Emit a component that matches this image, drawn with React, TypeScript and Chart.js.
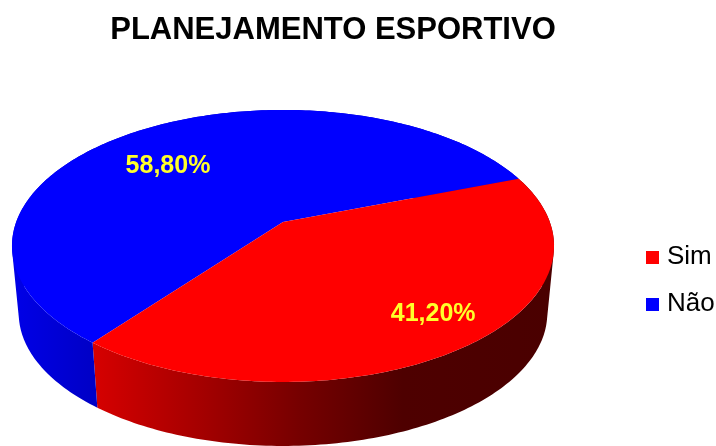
import React, { useEffect, useRef } from "react";
import { Chart, registerables } from "chart.js";

Chart.register(...registerables);

const chartTitle = "PLANEJAMENTO ESPORTIVO";
const categories = ["Sim", "Não"];
const shares = [41.2, 58.8];
const faceColors = ["#ff0000", "#0000ff"];

// Side wall shading, left to right, as [fraction of the pie's width, colour].
const redWallStops: [number, string][] = [
  [0.15, "#d60000"],
  [0.35, "#a40000"],
  [0.53, "#760000"],
  [0.72, "#4e0000"],
  [1, "#4a0000"],
];
const blueWallStops: [number, string][] = [
  [0, "#0000e8"],
  [0.15, "#0000c6"],
];
const wallStops = [redWallStops, blueWallStops];

// Where each percentage sits: angle in degrees and fraction of the radius.
const labelAngles = [50.5, 225.6];
const labelRadii = [0.79, 0.668];

const CX = 283;
const CY = 222;
const RX = 266.8;
const RY = 131.8;
const TILT = 0.176; // foreshortening: the near rim is drawn larger than the far rim
const WALL_DROP = 68;
const WALL_SCALE = 0.975;
const PIE_LEFT = 12;
const PIE_WIDTH = 543;
const LABEL_NUDGE = 2;

type Pt = [number, number];

function project(u: number, v: number, lower = false): Pt {
  const w = 1 - TILT * v;
  const s = lower ? WALL_SCALE : 1;
  return [CX + (s * RX * u) / w, CY + (lower ? WALL_DROP : 0) + (s * RY * v) / w];
}

function rim(start: number, end: number, lower = false): Pt[] {
  const steps = Math.max(2, Math.ceil(((end - start) * 180) / Math.PI));
  const pts: Pt[] = [];
  for (let i = 0; i <= steps; i++) {
    const t = start + ((end - start) * i) / steps;
    pts.push(project(Math.cos(t), Math.sin(t), lower));
  }
  return pts;
}

function tracePolygon(ctx: CanvasRenderingContext2D, pts: Pt[]) {
  pts.forEach(([x, y], i) => (i ? ctx.lineTo(x, y) : ctx.moveTo(x, y)));
  ctx.closePath();
}

function signedArea(pts: Pt[]): number {
  return pts.reduce((sum, [x, y], i) => {
    const [nx, ny] = pts[(i + 1) % pts.length];
    return sum + x * ny - nx * y;
  }, 0);
}

const pie3d = {
  id: "pie3d",
  // Slice angles come from the doughnut controller; the disc is painted in perspective.
  beforeDatasetDraw(chart: any) {
    const ctx: CanvasRenderingContext2D = chart.ctx;
    const arcs = chart.getDatasetMeta(0).data;
    ctx.save();
    arcs.forEach((arc: any, i: number) => {
      const g = ctx.createLinearGradient(PIE_LEFT, 0, PIE_LEFT + PIE_WIDTH, 0);
      wallStops[i].forEach(([p, c]) => g.addColorStop(p, c));
      const top = rim(arc.startAngle, arc.endAngle);
      const bottom = rim(arc.startAngle, arc.endAngle, true);
      // All quads share one path and one winding, so the wall fills without seams
      // and its outline follows the tangent between the two rims.
      ctx.beginPath();
      for (let k = 0; k + 1 < top.length; k++) {
        const quad: Pt[] = [top[k], top[k + 1], bottom[k + 1], bottom[k]];
        tracePolygon(ctx, signedArea(quad) < 0 ? quad.reverse() : quad);
      }
      ctx.fillStyle = g;
      ctx.fill();
    });
    [1, 0].forEach((i) => {
      const arc = arcs[i];
      ctx.beginPath();
      tracePolygon(ctx, [[CX, CY], ...rim(arc.startAngle, arc.endAngle)]);
      ctx.fillStyle = faceColors[i];
      ctx.fill();
    });
    ctx.font = "bold 25px 'Liberation Sans', Arial, sans-serif";
    ctx.textAlign = "center";
    ctx.textBaseline = "middle";
    ctx.fillStyle = "#ffff2a";
    shares.forEach((value, i) => {
      const t = (labelAngles[i] * Math.PI) / 180;
      const [x, y] = project(labelRadii[i] * Math.cos(t), labelRadii[i] * Math.sin(t));
      ctx.fillText(value.toFixed(2).replace(".", ",") + "%", x, y + LABEL_NUDGE);
    });
    ctx.restore();
    return false;
  },
  afterLayout(chart: any) {
    const legend = chart.legend;
    legend.left = 630;
    legend.right = 716;
    legend.top = 223;
    legend.bottom = 446;
    chart.titleBlock.left = 0;
    chart.titleBlock.right = 666;
  },
};

function swatch(color: string): HTMLCanvasElement {
  const c = document.createElement("canvas");
  c.width = 13;
  c.height = 13;
  const g = c.getContext("2d")!;
  g.fillStyle = color;
  g.fillRect(0, 0, 13, 13);
  return c;
}

export default function App() {
  const ref = useRef<HTMLCanvasElement>(null);
  useEffect(() => {
    const chart = new Chart(ref.current!, {
      type: "pie",
      data: {
        labels: categories,
        datasets: [{ data: shares, backgroundColor: faceColors, borderWidth: 0 }],
      },
      options: {
        animation: false,
        responsive: false,
        rotation: 69.6,
        layout: { padding: 0 },
        plugins: {
          tooltip: { enabled: false },
          title: {
            display: true,
            text: chartTitle,
            color: "#000000",
            fullSize: false,
            padding: { top: 12, bottom: 10 },
            font: { family: "'Liberation Sans', Arial, sans-serif", size: 31, weight: "bold" },
          },
          legend: {
            position: "right",
            align: "start",
            labels: {
              usePointStyle: true,
              pointStyleWidth: 3,
              padding: 21,
              color: "#000000",
              font: { family: "'Liberation Sans', Arial, sans-serif", size: 26 },
              generateLabels: () =>
                categories.map((text, i) => ({
                  text,
                  index: i,
                  fillStyle: faceColors[i],
                  strokeStyle: faceColors[i],
                  lineWidth: 0,
                  hidden: false,
                  pointStyle: swatch(faceColors[i]),
                })),
            },
          },
        },
      },
      plugins: [pie3d],
    } as any);
    return () => chart.destroy();
  }, []);
  return (
    <div style={{ position: "absolute", left: 0, top: 0, width: 716, height: 446, background: "#fff" }}>
      <canvas ref={ref} width={716} height={446} style={{ display: "block" }} />
    </div>
  );
}
